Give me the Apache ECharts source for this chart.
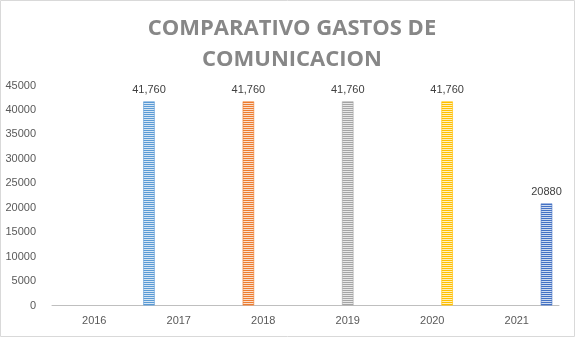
<!DOCTYPE html>
<html><head><meta charset="utf-8">
<script src="https://cdn.jsdelivr.net/npm/echarts@6/dist/echarts.min.js"></script>
<style>html,body{margin:0;padding:0;background:#fff}#c{width:587px;height:340px}</style>
</head><body><div id="c"></div>
<script>
const categories = ['2016','2017','2018','2019','2020','2021'];
const seriesNames = ['2017','2018','2019','2020','2021'];
const s2017 = [null, 41760, null, null, null, null];
const s2018 = [null, null, 41760, null, null, null];
const s2019 = [null, null, null, 41760, null, null];
const s2020 = [null, null, null, null, 41760, null];
const s2021 = [null, null, null, null, null, 20880];
const seriesValues = [s2017, s2018, s2019, s2020, s2021];
const labelFormats = ['comma','comma','comma','comma','plain'];
const colors = ['#5B9BD5','#ED7D31','#A5A5A5','#FFC000','#4472C4'];
const yTicks = {min: 0, max: 45000, interval: 5000};

function stripe(col){
  const c = document.createElement('canvas');
  c.width = 4; c.height = 2;
  const g = c.getContext('2d');
  g.fillStyle = '#ffffff'; g.fillRect(0,0,4,2);
  g.fillStyle = col; g.fillRect(0,0,4,1);
  g.globalAlpha = 0.25; g.fillRect(0,1,4,1);
  return c;
}

const chart = echarts.init(document.getElementById('c'), null, {renderer:'canvas'});
const font = '"Liberation Sans", Arial, sans-serif';
chart.setOption({
  animation: false,
  title: {
    text: 'COMPARATIVO GASTOS DE\nCOMUNICACION',
    left: 287, textAlign: 'center', top: 8,
    textStyle: {fontFamily: '"Open Sans", "DejaVu Sans", sans-serif', fontSize: 22, fontWeight: 'bold', color: '#878787', lineHeight: 31}
  },
  graphic: [{type:'rect', shape:{x:0.5, y:0.5, width:574, height:336}, style:{fill:null, stroke:'#D9D9D9', lineWidth:1}, silent:true}],
  grid: {left: 52, right: 28, top: 85.5, bottom: 34.5, containLabel: false},
  xAxis: {
    type: 'category', data: categories,
    axisLine: {show: true, lineStyle: {color: '#BFBFBF', width: 1}},
    axisTick: {show: false},
    axisLabel: {color: '#595959', fontFamily: font, fontSize: 11, margin: 10}
  },
  yAxis: {
    type: 'value', min: yTicks.min, max: yTicks.max, interval: yTicks.interval,
    axisLine: {show: false}, axisTick: {show: false},
    splitLine: {show: false},
    axisLabel: {color: '#595959', fontFamily: font, fontSize: 11, margin: 16, formatter: v => String(v)}
  },
  series: seriesValues.map((vals, i) => ({
    name: seriesNames[i], type: 'bar', data: vals,
    barGap: '30%', barCategoryGap: '16%',
    itemStyle: {color: {image: stripe(colors[i]), repeat: 'repeat'}, borderColor: colors[i], borderWidth: 0.6},
    label: {
      show: true, position: 'top', distance: 6, color: '#404040', fontFamily: font, fontSize: 11,
      formatter: p => labelFormats[i] === 'comma' ? Number(p.value).toLocaleString('en-US') : String(p.value)
    }
  }))
});
</script></body></html>
